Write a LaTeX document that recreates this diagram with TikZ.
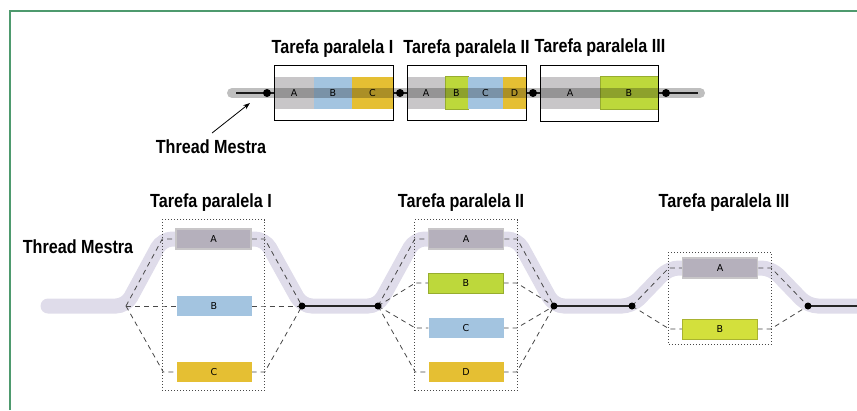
\documentclass[tikz,border=0pt]{standalone}
\usepackage{fontspec}
\setmainfont{DejaVu Sans}
\newfontfamily\titlefont{Liberation Sans}[FakeStretch=0.85]
\usetikzlibrary{arrows.meta, positioning, calc, fit}

\definecolor{framegreen}{HTML}{4E9A6E}
\definecolor{agray}{HTML}{C8C6C8}
\definecolor{agraydark}{HTML}{B5B0BC}
\definecolor{bblue}{HTML}{A3C4E0}
\definecolor{cyellow}{HTML}{E5BF33}
\definecolor{bgreen}{HTML}{BDD83B}
\definecolor{blime}{HTML}{D3E03C}
\definecolor{lavender}{HTML}{DFDCEA}
\definecolor{dashgray}{HTML}{484848}

\tikzset{
  title/.style={font=\titlefont\bfseries\fontsize{19}{20}\selectfont, anchor=base, inner sep=0},
  bar/.style={minimum height=32, inner sep=0, outer sep=0, font=\fontsize{9.5}{10}\selectfont},
  task/.style={minimum width=75, minimum height=20, inner sep=0, font=\fontsize{9.5}{10}\selectfont},
  outerbox/.style={draw=black, line width=0.9, inner xsep=0, inner ysep=11.5},
  taskframe/.style={draw=dashgray, line width=0.8, dash pattern=on 0.8pt off 2.2pt, inner xsep=13},
  dot/.style={circle, fill=black, inner sep=0, minimum size=8},
  fork/.style={draw=dashgray, line width=0.8, dash pattern=on 5pt off 4pt},
  mainline/.style={draw=black!85, line width=1.1},
}

\begin{document}
\begin{tikzpicture}[x=1pt, y=-1pt]
  \useasboundingbox (0,0) rectangle (857,410);

  % frame
  \draw[framegreen, line width=1.6] (10,410) -- (10,11) -- (857,11);

  % ---------- upper picture ----------
  \coordinate (ts) at (236,93);
  \coordinate (te) at (698,93);
  \draw[mainline] (ts) -- (te);

  % Tarefa I
  \node[bar, fill=agray, minimum width=40] (t1a) at (294,93) {A};
  \node[bar, fill=bblue, minimum width=38, right=0pt of t1a] (t1b) {B};
  \node[bar, fill=cyellow, minimum width=41, right=0pt of t1b] (t1c) {C};
  % Tarefa II
  \node[bar, fill=agray, minimum width=38] (t2a) at (426,93) {A};
  \node[bar, fill=bgreen, draw=bgreen!80!black, minimum width=23, minimum height=33, right=0pt of t2a] (t2b) {B};
  \node[bar, fill=bblue, minimum width=35, right=0pt of t2b] (t2c) {C};
  \node[bar, fill=cyellow, minimum width=23, right=0pt of t2c] (t2d) {D};
  % Tarefa III
  \node[bar, fill=agray, minimum width=60] (t3a) at (570,93) {A};
  \node[bar, fill=bgreen, draw=bgreen!80!black, minimum width=58, minimum height=33, right=0pt of t3a] (t3b) {B};

  \node[outerbox, fit=(t1a)(t1c)] (t1) {};
  \node[outerbox, fit=(t2a)(t2d)] (t2) {};
  \node[outerbox, fit=(t3a)(t3b)] (t3) {};

  \draw[black, opacity=0.25, line width=10, line cap=round] ([xshift=-4]ts) -- ([xshift=2]te);

  \node[dot] (u1) at (267,93) {};
  \node[dot] (u2) at (400,93) {};
  \node[dot] (u3) at (533,93) {};
  \node[dot] (u4) at (666,93) {};

  \node[title] (h1) at ($(t1.north)+(-1,-12)$) {Tarefa paralela I};
  \node[title] (h2) at ($(t2.north)+(0,-12)$) {Tarefa paralela II};
  \node[title] (h3) at ($(t3.north)+(1,-12)$) {Tarefa paralela III};

  \node[title] (tm1) at (211,153) {Thread Mestra};
  \coordinate (tmtip) at (250,103);
  \draw[-{Stealth[length=7pt, width=5pt]}, line width=0.8] ([xshift=1,yshift=6]tm1.north) -- (tmtip);

  % ---------- lower picture ----------
  \node[task, fill=agraydark, draw=agray, line width=1.5] (a1) at (213.5,239) {A};
  \node[task, fill=bblue] (b1) at (214,306) {B};
  \node[task, fill=cyellow] (c1) at (214,372) {C};

  \node[task, fill=agraydark, draw=agray, line width=1.5] (a2) at (466,239) {A};
  \node[task, fill=bgreen, draw=bgreen!80!black] (b2) at (466,283) {B};
  \node[task, fill=bblue] (c2) at (466,328) {C};
  \node[task, fill=cyellow] (d2) at (466,372) {D};

  \node[task, fill=agraydark, draw=agray, line width=1.5] (a3) at (720,268) {A};
  \node[task, fill=blime, draw=blime!80!black] (b3) at (720,329) {B};

  \coordinate (m0) at (48,306);
  \coordinate (j0) at (126,306);
  \coordinate (j1) at (302,306);
  \coordinate (j2) at (378,306);
  \coordinate (j3) at (554,306);
  \coordinate (j4) at (632,306);
  \coordinate (j5) at (808,306);
  \coordinate (m6) at (875,306);

  \draw[lavender, line width=15, line cap=round, rounded corners=10]
    (m0) -- (j0) -- ($(a1.west)+(-13,0)$) -- ($(a1.east)+(13,0)$) -- (j1)
    -- (j2) -- ($(a2.west)+(-13,0)$) -- ($(a2.east)+(13,0)$) -- (j3)
    -- (j4) -- ($(a3.west)+(-13,0)$) -- ($(a3.east)+(13,0)$) -- (j5) -- (m6);

  \draw[mainline] (j1) -- (j2);
  \draw[mainline] (j3) -- (j4);
  \draw[mainline] (j5) -- (m6);

  % dashed forks
  \foreach \t/\a/\b in {a1/j0/j1, b1/j0/j1, c1/j0/j1,
                        a2/j2/j3, b2/j2/j3, c2/j2/j3, d2/j2/j3,
                        a3/j4/j5, b3/j4/j5}
    \draw[fork] (\a) -- ($(\t.west)+(-13,0)$) -- (\t.west)
                (\t.east) -- ($(\t.east)+(13,0)$) -- (\b);

  \node[taskframe, fit=(a1)(c1), inner ysep=8.5] (f1) {};
  \node[taskframe, fit=(a2)(d2), inner ysep=8.5] (f2) {};
  \node[taskframe, fit=(a3)(b3), inner ysep=5] (f3) {};

  % redraw boxes above the lines
  \foreach \t in {a1, a2, a3}
    \node[task, fill=agraydark, draw=agray, line width=1.5] at (\t) {A};
  \node[task, fill=bblue] at (b1) {B};
  \node[task, fill=cyellow] at (c1) {C};
  \node[task, fill=bgreen, draw=bgreen!80!black] at (b2) {B};
  \node[task, fill=bblue] at (c2) {C};
  \node[task, fill=cyellow] at (d2) {D};
  \node[task, fill=blime, draw=blime!80!black] at (b3) {B};

  \node[dot, minimum size=7] (k1) at (j1) {};
  \node[dot, minimum size=7] (k2) at (j2) {};
  \node[dot, minimum size=7] (k3) at (j3) {};
  \node[dot, minimum size=7] (k4) at (j4) {};
  \node[dot, minimum size=7] (k5) at (j5) {};

  \node[title] (g1) at (211,207) {Tarefa paralela I};
  \node[title] (g2) at (461,207) {Tarefa paralela II};
  \node[title] (g3) at (724,207) {Tarefa paralela III};
  \node[title] (tm2) at (78,253) {Thread Mestra};
\end{tikzpicture}
\end{document}
